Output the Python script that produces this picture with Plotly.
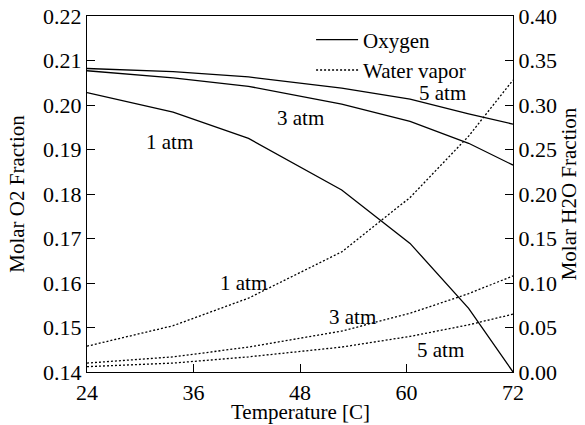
import plotly.graph_objects as go

# Temperatures [C]
temps = [24, 33.7, 42.2, 52.7, 60.4, 67, 72]

# Molar O2 fraction (left axis)
o2_1atm = [0.2028, 0.1984, 0.1925, 0.1809, 0.1689, 0.1543, 0.1400]
o2_3atm = [0.2077, 0.2061, 0.2042, 0.2002, 0.1963, 0.1914, 0.1865]
o2_5atm = [0.2082, 0.2075, 0.2063, 0.2038, 0.2013, 0.1980, 0.1957]

# Molar H2O fraction (right axis)
h2o_1atm = [0.029, 0.052, 0.083, 0.135, 0.196, 0.265, 0.328]
h2o_3atm = [0.010, 0.017, 0.028, 0.046, 0.066, 0.088, 0.108]
h2o_5atm = [0.006, 0.010, 0.017, 0.028, 0.040, 0.053, 0.065]

x_ticks = [24, 36, 48, 60, 72]

FONT = "Liberation Serif, Times New Roman, Times, serif"
FS_TICK = 22
FS_TITLE = 21
FS_TEXT = 21
fig = go.Figure()

solid = dict(color="black", width=1.3)
dotted = dict(color="black", width=1.3, dash="2px,2px")

for i, ys in enumerate([o2_1atm, o2_3atm, o2_5atm]):
    fig.add_trace(go.Scatter(x=temps, y=ys, mode="lines", line=solid,
                             name="Oxygen", legendgroup="o2",
                             showlegend=(i == 0), yaxis="y"))
for i, ys in enumerate([h2o_1atm, h2o_3atm, h2o_5atm]):
    fig.add_trace(go.Scatter(x=temps, y=ys, mode="lines", line=dotted,
                             name="Water vapor", legendgroup="h2o",
                             showlegend=(i == 0), yaxis="y2"))

labels = [
    (33.35, 0.1917, "1 atm"),
    (48.0, 0.1971, "3 atm"),
    (64.1, 0.2027, "5 atm"),
    (41.6, 0.1600, "1 atm"),
    (53.9, 0.1524, "3 atm"),
    (63.8, 0.1449, "5 atm"),
]
for lx, ly, txt in labels:
    fig.add_annotation(x=lx, y=ly, xref="x", yref="y", text=txt,
                       showarrow=False, font=dict(family=FONT, size=FS_TEXT, color="black"))

# x-axis title placed below the tick labels
fig.add_annotation(x=0.5, y=0, xref="paper", yref="paper", yanchor="top", yshift=-26,
                   text="Temperature [C]", showarrow=False,
                   font=dict(family=FONT, size=FS_TITLE, color="black"))

axis_common = dict(showline=True, linecolor="black", linewidth=1.3,
                   ticks="inside", ticklen=8, tickwidth=1.3, tickcolor="black",
                   showgrid=False, zeroline=False, automargin=False,
                   ticklabeloverflow="allow",
                   tickfont=dict(family=FONT, size=FS_TICK, color="black"))

fig.update_layout(
    width=585, height=425,
    margin=dict(l=87, r=72, t=16, b=53),
    paper_bgcolor="white", plot_bgcolor="white",
    font=dict(family=FONT, size=FS_TEXT, color="black"),
    xaxis=dict(range=[24, 72], tickvals=x_ticks, mirror=True, **axis_common),
    yaxis=dict(range=[0.14, 0.22], dtick=0.01, tickformat=".2f", mirror=True,
               title=dict(text="Molar O2 Fraction", font=dict(family=FONT, size=FS_TITLE), standoff=12),
               **axis_common),
    yaxis2=dict(range=[0, 0.40], dtick=0.05, tickformat=".2f", overlaying="y", side="right",
                title=dict(text="Molar H2O Fraction", font=dict(family=FONT, size=FS_TITLE), standoff=3),
                **axis_common),
    legend=dict(x=0.526, y=0.99, xanchor="left", yanchor="top",
                bgcolor="rgba(0,0,0,0)", font=dict(family=FONT, size=FS_TEXT),
                traceorder="grouped", tracegroupgap=0, itemwidth=42),
    showlegend=True,
)

fig.write_html("out.html", config={"displayModeBar": False},
               post_script="document.body.style.margin='0px';")
